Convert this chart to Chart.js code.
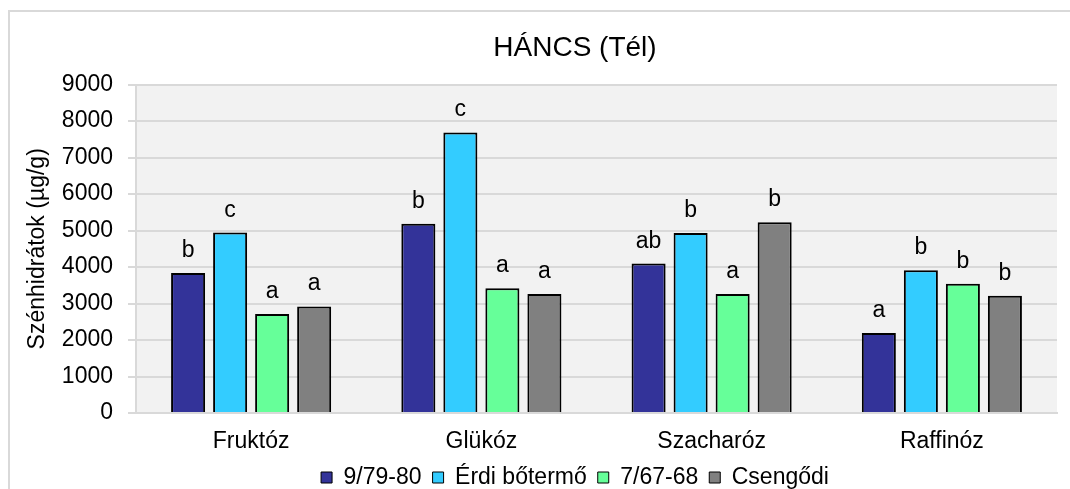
<!DOCTYPE html>
<html>
<head>
<meta charset="utf-8">
<script src="https://cdn.jsdelivr.net/npm/chart.js@4"></script>
<style>
  html, body { margin: 0; padding: 0; background: #fff; overflow: hidden; }
  #keret { position: absolute; left: 8px; top: 10px; width: 1140px; height: 520px; border: 2px solid #d9d9d9; }
  #grafikon { position: absolute; left: 0; top: 0; display: block; }
</style>
</head>
<body>
<div id="keret"></div>
<canvas id="grafikon" width="1130" height="499"></canvas>
<script>
// adatok
const kategoriak = ['Fruktóz', 'Glükóz', 'Szacharóz', 'Raffinóz'];
const fajtak = ['9/79-80', 'Érdi bőtermő', '7/67-68', 'Csengődi'];
const szinek = ['#333399', '#33ccff', '#66ff99', '#808080'];

const ertek_9_79_80 = [3840, 5185, 4097, 2190];
const ertek_erdi = [4945, 7690, 4936, 3912];
const ertek_7_67_68 = [2715, 3417, 3258, 3543];
const ertek_csengodi = [2920, 3258, 5230, 3212];

const betuk_9_79_80 = ['b', 'b', 'ab', 'a'];
const betuk_erdi = ['c', 'c', 'b', 'b'];
const betuk_7_67_68 = ['a', 'a', 'a', 'b'];
const betuk_csengodi = ['a', 'a', 'b', 'b'];

const yTickek = [0, 1000, 2000, 3000, 4000, 5000, 6000, 7000, 8000, 9000];

const ertekek = [ertek_9_79_80, ertek_erdi, ertek_7_67_68, ertek_csengodi];
const betuk = [betuk_9_79_80, betuk_erdi, betuk_7_67_68, betuk_csengodi];

const betutipus = '"Liberation Sans", Arial, sans-serif';

// szürke háttér a rajzterületnek
const hatter = {
    id: 'hatter',
    beforeDraw(chart) {
        const a = chart.chartArea;
        const ctx = chart.ctx;
        ctx.save();
        ctx.fillStyle = '#f2f2f2';
        ctx.fillRect(a.left, a.top, a.right - a.left, a.bottom - a.top);
        ctx.restore();
    }
};

// betűjelek az oszlopok fölött
const betujelek = {
    id: 'betujelek',
    afterDatasetsDraw(chart) {
        const ctx = chart.ctx;
        ctx.save();
        ctx.font = '23px ' + betutipus;
        ctx.fillStyle = '#000';
        ctx.textAlign = 'center';
        ctx.textBaseline = 'alphabetic';
        chart.data.datasets.forEach(function (ds, i) {
            chart.getDatasetMeta(i).data.forEach(function (bar, j) {
                ctx.fillText(betuk[i][j], bar.x, bar.y - 16);
            });
        });
        ctx.restore();
    }
};

const datasets = fajtak.map(function (nev, i) {
    return {
        label: nev,
        data: ertekek[i],
        backgroundColor: szinek[i],
        borderColor: '#000',
        borderWidth: 2,
        categoryPercentage: 0.73,
        barPercentage: 0.81
    };
});

new Chart(document.getElementById('grafikon'), {
    type: 'bar',
    data: { labels: kategoriak, datasets: datasets },
    options: {
        responsive: false,
        animation: false,
        layout: { padding: { left: 20, right: 0, top: 0, bottom: 0 } },
        plugins: {
            title: {
                display: true,
                text: 'HÁNCS (Tél)',
                color: '#000',
                font: { family: betutipus, size: 28, weight: 'normal' },
                padding: { top: 31, bottom: 20 }
            },
            legend: {
                position: 'bottom',
                labels: {
                    color: '#000',
                    font: { family: betutipus, size: 23 },
                    boxWidth: 11,
                    boxHeight: 11,
                    padding: 11,
                    generateLabels(chart) {
                        const lista = Chart.defaults.plugins.legend.labels.generateLabels(chart);
                        lista.forEach(function (l) { l.lineWidth = 1; });
                        return lista;
                    }
                }
            },
            tooltip: { enabled: false }
        },
        scales: {
            x: {
                grid: { display: false },
                border: { display: true, color: '#d9d9d9', width: 2 },
                ticks: { color: '#000', font: { family: betutipus, size: 23 }, padding: 7 },
                afterFit(s) { s.height = 42; }
            },
            y: {
                min: 0,
                max: 9000,
                afterBuildTicks(s) { s.ticks = yTickek.map(function (v) { return { value: v }; }); },
                grid: { color: '#d9d9d9', lineWidth: 2, tickLength: 8 },
                border: { display: true, color: '#d9d9d9', width: 2 },
                ticks: {
                    color: '#000',
                    font: { family: betutipus, size: 23 },
                    padding: 15,
                    callback(v) { return String(v); }
                },
                title: {
                    display: true,
                    text: 'Szénhidrátok (µg/g)',
                    color: '#000',
                    font: { family: betutipus, size: 23 },
                    padding: { top: 4, bottom: 4 }
                },
                afterFit(s) { s.width = 116; }
            },
            jobb: {
                type: 'linear',
                position: 'right',
                display: true,
                grid: { display: false },
                border: { display: false },
                ticks: { display: false },
                afterFit(s) { s.width = 73; }
            }
        }
    },
    plugins: [hatter, betujelek]
});
</script>
</body>
</html>
